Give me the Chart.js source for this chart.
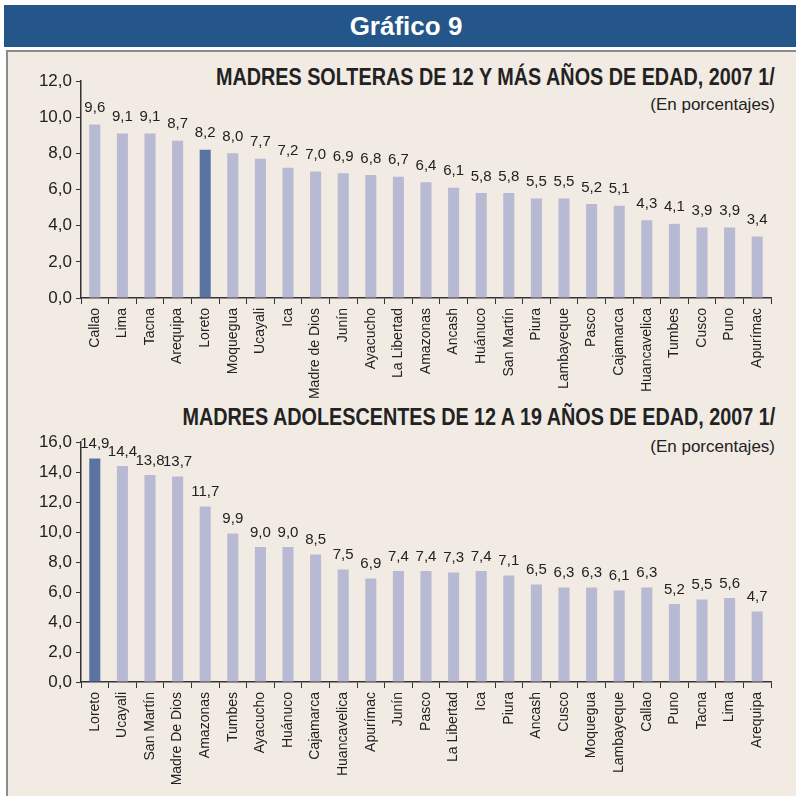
<!DOCTYPE html>
<html>
<head>
<meta charset="utf-8">
<script src="https://cdn.jsdelivr.net/npm/chart.js@4/dist/chart.umd.min.js"></script>
<style>
  body { margin: 0; background: #fff; width: 796px; height: 796px; overflow: hidden; position: relative; font-family: "Liberation Sans", Arial, sans-serif; }
  #cabecera { position: absolute; left: 4px; top: 5px; width: 780px; padding-left: 12px; height: 42px; background: #24568a; color: #fff; font: bold 26px "Liberation Sans", Arial, sans-serif; text-align: center; line-height: 42px; }
  #panel { position: absolute; left: 6px; top: 50px; width: 800px; height: 760px; background: #f1ebe4; border-left: 2px solid #8c8c8c; border-top: 2px solid #8c8c8c; }
  .titulo { position: absolute; right: 21px; font-weight: bold; font-size: 23px; color: #222; white-space: nowrap; transform: scaleX(0.86); transform-origin: right center; }
  .sub { position: absolute; right: 21px; font-size: 17px; color: #222; white-space: nowrap; }
  canvas { position: absolute; left: 0; }
</style>
</head>
<body>
<div id="cabecera">Gráfico 9</div>
<div id="panel"></div>
<div class="titulo" style="top:64px">MADRES SOLTERAS DE 12 Y MÁS AÑOS DE EDAD, 2007 1/</div>
<div class="sub" style="top:95px">(En porcentajes)</div>
<div class="titulo" style="top:404px">MADRES ADOLESCENTES DE 12 A 19 AÑOS DE EDAD, 2007 1/</div>
<div class="sub" style="top:437px">(En porcentajes)</div>
<canvas id="graficoSolteras" width="796" height="350" style="top:60px"></canvas>
<canvas id="graficoAdolescentes" width="796" height="400" style="top:390px"></canvas>
<script>
// Madres solteras de 12 y más años
const regioesSolteras = ['Callao', 'Lima', 'Tacna', 'Arequipa', 'Loreto', 'Moquegua', 'Ucayali', 'Ica', 'Madre de Dios', 'Junín', 'Ayacucho', 'La Libertad', 'Amazonas', 'Ancash', 'Huánuco', 'San Martín', 'Piura', 'Lambayeque', 'Pasco', 'Cajamarca', 'Huancavelica', 'Tumbes', 'Cusco', 'Puno', 'Apurímac'];
const valoresSolteras = [9.6, 9.1, 9.1, 8.7, 8.2, 8.0, 7.7, 7.2, 7.0, 6.9, 6.8, 6.7, 6.4, 6.1, 5.8, 5.8, 5.5, 5.5, 5.2, 5.1, 4.3, 4.1, 3.9, 3.9, 3.4];
const ticksSolteras = [0, 2, 4, 6, 8, 10, 12];

// Madres adolescentes de 12 a 19 años
const regioesAdolescentes = ['Loreto', 'Ucayali', 'San Martín', 'Madre De Dios', 'Amazonas', 'Tumbes', 'Ayacucho', 'Huánuco', 'Cajamarca', 'Huancavelica', 'Apurímac', 'Junín', 'Pasco', 'La Libertad', 'Ica', 'Piura', 'Ancash', 'Cusco', 'Moquegua', 'Lambayeque', 'Callao', 'Puno', 'Tacna', 'Lima', 'Arequipa'];
const valoresAdolescentes = [14.9, 14.4, 13.8, 13.7, 11.7, 9.9, 9.0, 9.0, 8.5, 7.5, 6.9, 7.4, 7.4, 7.3, 7.4, 7.1, 6.5, 6.3, 6.3, 6.1, 6.3, 5.2, 5.5, 5.6, 4.7];
const ticksAdolescentes = [0, 2, 4, 6, 8, 10, 12, 14, 16];

const regiaoDestaque = 'Loreto';
const corBarra = '#b8b9d3';
const corDestaque = '#5b73a1';
const fonte = '"Liberation Sans", Arial, sans-serif';

function formatar(v) {
    return v.toFixed(1).replace('.', ',');
}

// Rótulos de valores por cima das barras
const rotulosPlugin = {
    id: 'rotulos',
    afterDatasetsDraw(chart, args, opts) {
        const ctx = chart.ctx;
        const meta = chart.getDatasetMeta(0);
        const dados = chart.data.datasets[0].data;
        ctx.save();
        ctx.font = '15px ' + fonte;
        ctx.fillStyle = '#222';
        ctx.textAlign = 'center';
        ctx.textBaseline = 'bottom';
        meta.data.forEach((barra, i) => {
            ctx.fillText(formatar(dados[i]), barra.x, barra.y - opts.gap);
        });
        ctx.restore();
    }
};

function criarGrafico(id, regioes, valores, ticks, topo, alturaEixoX, gap) {
    new Chart(document.getElementById(id), {
        type: 'bar',
        data: {
            labels: regioes,
            datasets: [{
                data: valores,
                backgroundColor: regioes.map(r => r === regiaoDestaque ? corDestaque : corBarra),
                barPercentage: 0.4,
                categoryPercentage: 1
            }]
        },
        options: {
            responsive: false,
            animation: false,
            devicePixelRatio: 1,
            layout: { padding: { top: topo, right: 25, left: 0, bottom: 0 } },
            plugins: {
                legend: { display: false },
                tooltip: { enabled: false },
                rotulos: { gap: gap }
            },
            scales: {
                x: {
                    afterFit: s => { s.height = alturaEixoX; },
                    grid: { drawOnChartArea: false, drawTicks: true, tickLength: 6, color: '#333', offset: true },
                    border: { color: '#333', width: 1.5 },
                    ticks: { minRotation: 90, maxRotation: 90, autoSkip: false, padding: 4, color: '#222', font: { family: fonte, size: 14 } }
                },
                y: {
                    min: ticks[0],
                    max: ticks[ticks.length - 1],
                    afterFit: s => { s.width = 81; },
                    afterBuildTicks: s => { s.ticks = ticks.map(v => ({ value: v })); },
                    grid: { drawOnChartArea: false, drawTicks: true, tickLength: 5, color: '#333' },
                    border: { color: '#333', width: 1.5 },
                    ticks: { padding: 4, color: '#222', font: { family: fonte, size: 17 }, callback: v => formatar(v) }
                }
            }
        },
        plugins: [rotulosPlugin]
    });
}

criarGrafico('graficoSolteras', regioesSolteras, valoresSolteras, ticksSolteras, 21, 112, 9);
criarGrafico('graficoAdolescentes', regioesAdolescentes, valoresAdolescentes, ticksAdolescentes, 52, 108, 7);
</script>
</body>
</html>
